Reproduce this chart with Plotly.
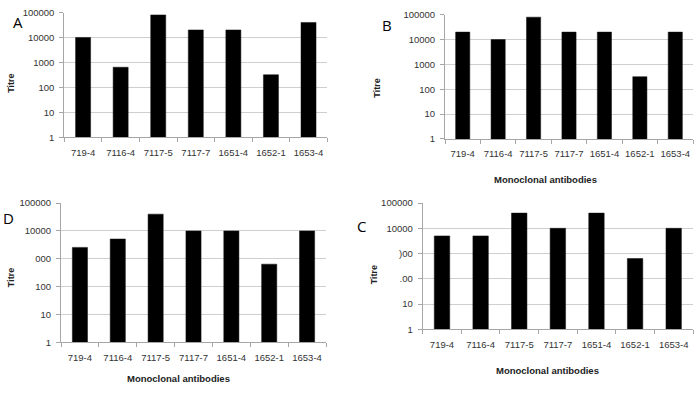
import plotly.graph_objects as go

W, H = 700, 394

antibodies = ["719-4", "7116-4", "7117-5", "7117-7", "1651-4", "1652-1", "1653-4"]
titre_A = [10000, 640, 80000, 20000, 20000, 320, 40000]
titre_B = [20000, 10000, 80000, 20000, 20000, 320, 20000]
titre_D = [2560, 5120, 40000, 10000, 10000, 640, 10000]
titre_C = [5000, 5000, 40000, 10000, 40000, 640, 10000]

ytick_vals = [1, 10, 100, 1000, 10000, 100000]
ytick_text_full = ["1", "10", "100", "1000", "10000", "100000"]
ytick_text_D = ["1", "10", "100", "000", "10000", "100000"]
ytick_text_C = ["1", "10", ".00", ")00", "10000", "100000"]

FONT = "Liberation Sans"
TICKCOL = "#333333"

def px_x(p):
    return p / W

def px_y(p):
    return 1 - p / H

# panels: (name, values, x-left px, x-right px, y-top px, y-bottom px, ticktext)
panels = [
    ("A", titre_A, 64.3, 327.3, 6.7, 135.0, ytick_text_full),
    ("B", titre_B, 445.0, 693.0, 9.0, 136.7, ytick_text_full),
    ("D", titre_D, 61.0, 326.0, 202.7, 346.0, ytick_text_D),
    ("C", titre_C, 422.7, 693.0, 202.7, 332.7, ytick_text_C),
]

fig = go.Figure()
layout = dict(
    width=W, height=H,
    margin=dict(l=0, r=0, t=0, b=0),
    paper_bgcolor="white", plot_bgcolor="white",
    showlegend=False, bargap=0.6,
    font=dict(family=FONT, size=9, color=TICKCOL),
)

for i, (name, vals, x0, x1, y0, y1, ytext) in enumerate(panels):
    suffix = "" if i == 0 else str(i + 1)
    fig.add_trace(go.Bar(
        x=antibodies, y=vals,
        marker=dict(color="black", line=dict(color="#111111", width=0.5)),
        xaxis="x" + suffix, yaxis="y" + suffix,
    ))
    layout["xaxis" + suffix] = dict(
        domain=[px_x(x0), px_x(x1)], anchor="y" + suffix,
        type="category", showline=True, linecolor="#a6a6a6", linewidth=1,
        ticks="outside", tickson="boundaries", ticklen=4, tickcolor="#a6a6a6",
        showgrid=False, tickangle=0,
        tickfont=dict(size=9.5, color=TICKCOL, family=FONT),
        ticklabelstandoff=6, fixedrange=True,
    )
    layout["yaxis" + suffix] = dict(
        domain=[px_y(y1), px_y(y0)], anchor="x" + suffix,
        type="log", range=[0, 5],
        tickmode="array", tickvals=ytick_vals, ticktext=ytext,
        showline=True, linecolor="#a6a6a6", linewidth=1,
        ticks="outside", ticklen=4, tickcolor="#a6a6a6",
        showgrid=True, gridcolor="#cfcfcf", gridwidth=1,
        zeroline=False, tickfont=dict(size=9.5, color=TICKCOL, family=FONT),
        ticklabelstandoff=3, fixedrange=True,
    )

annotations = []
# Panel letters
letters = [("A", 18, 16), ("B", 386.5, 20), ("D", 8, 218), ("C", 361.5, 226)]
for t, x, y in letters:
    annotations.append(dict(text=t, x=px_x(x), y=px_y(y), xref="paper", yref="paper",
                            showarrow=False, xanchor="center", yanchor="middle",
                            font=dict(size=15, color="black", family="Open Sans")))
# Y titles
for x, y in [(11, 80), (377, 85), (11, 280), (374, 277)]:
    annotations.append(dict(text="<b>Titre</b>", x=px_x(x), y=px_y(y), xref="paper", yref="paper",
                            showarrow=False, textangle=-90, xanchor="center", yanchor="middle",
                            font=dict(size=9, color="#222222", family=FONT)))
# X titles
for x, y in [(545, 178), (178, 383), (547, 375)]:
    annotations.append(dict(text="<b>Monoclonal antibodies</b>", x=px_x(x), y=px_y(y),
                            xref="paper", yref="paper", showarrow=False,
                            xanchor="center", yanchor="middle",
                            font=dict(size=9.5, color="#222222", family=FONT)))

layout["annotations"] = annotations
fig.update_layout(**layout)
fig.write_html("out.html", config={"displayModeBar": False},
               post_script="document.body.style.margin='0';")
